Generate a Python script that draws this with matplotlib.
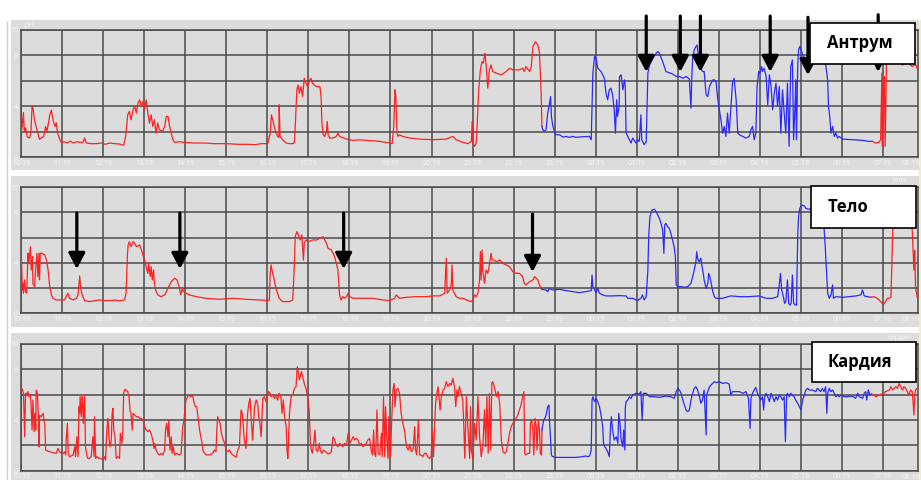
import matplotlib
matplotlib.use("Agg")
from matplotlib import pyplot as plt
from matplotlib.patches import Rectangle
from matplotlib.lines import Line2D

plt.rcParams['font.family'] = ['Open Sans', 'DejaVu Sans']

# time axis: hours after 10:19
hour_labels = ["10:19", "11:19", "12:19", "13:19", "14:19", "15:19", "16:19", "17:19",
               "18:19", "19:19", "20:19", "21:19", "22:19", "23:19", "00:19", "01:19",
               "02:19", "03:19", "04:19", "05:19", "06:19", "07:19", "08:19"]

# ---- Антрум: (hour, pH) ----
antrum_red1 = [
    (0.00, 1.9), (0.03, 2.4), (0.06, 3.5), (0.08, 2.0), (0.11, 2.3), (0.15, 1.6), (0.21, 1.5), (0.24, 1.9),
    (0.27, 4.0), (0.29, 3.9), (0.33, 2.9), (0.37, 2.4), (0.41, 1.9), (0.45, 1.4), (0.49, 1.5), (0.55, 1.6),
    (0.60, 2.4), (0.63, 2.0), (0.67, 2.7), (0.70, 3.3), (0.74, 3.7), (0.76, 3.3), (0.79, 2.8), (0.83, 2.4),
    (0.86, 2.7), (0.89, 1.9), (0.94, 1.4), (0.98, 1.15), (1.05, 1.2), (1.12, 1.1), (1.20, 1.25), (1.28, 1.1),
    (1.36, 1.2), (1.44, 1.15), (1.51, 1.15), (1.55, 1.5), (1.59, 1.1), (1.70, 1.05), (1.83, 1.05), (1.95, 1.1),
    (2.05, 1.0), (2.16, 1.1), (2.28, 1.05), (2.40, 1.02), (2.50, 0.92), (2.55, 1.62), (2.58, 2.67), (2.60, 3.32),
    (2.64, 3.59), (2.68, 2.93), (2.73, 3.72), (2.77, 3.98), (2.81, 3.46), (2.85, 4.24), (2.89, 4.50), (2.93, 3.98),
    (2.97, 4.37), (3.01, 3.72), (3.05, 4.5), (3.09, 3.46), (3.13, 2.67), (3.17, 3.32), (3.21, 2.41), (3.25, 2.93),
    (3.29, 1.88), (3.33, 2.67), (3.37, 2.15), (3.45, 2.02), (3.50, 2.41), (3.54, 3.19), (3.58, 3.19), (3.62, 2.41),
    (3.66, 1.88), (3.70, 1.36), (3.74, 1.15), (3.85, 1.2), (4.0, 1.15), (4.2, 1.1), (4.5, 1.1), (4.7, 1.05),
    (5.0, 1.05), (5.3, 1.0), (5.5, 1.0), (5.7, 0.97), (5.85, 1.05), (6.01, 1.05), (6.07, 1.88), (6.10, 3.32),
    (6.13, 2.93), (6.17, 2.41), (6.21, 1.88), (6.25, 1.62), (6.28, 1.54), (6.29, 4.11), (6.31, 1.62), (6.37, 1.36),
    (6.46, 1.10), (6.54, 1.05), (6.62, 1.05), (6.66, 1.15), (6.68, 2.41), (6.72, 5.29), (6.75, 5.68), (6.78, 5.03),
    (6.82, 5.55), (6.86, 4.76), (6.90, 6.20), (6.94, 5.81), (6.98, 5.55), (7.02, 5.94), (7.06, 6.2), (7.10, 5.81),
    (7.19, 5.55), (7.28, 5.55), (7.31, 4.76), (7.33, 2.67), (7.36, 1.75), (7.40, 1.62), (7.44, 2.02), (7.46, 2.8),
    (7.48, 1.75), (7.52, 1.49), (7.60, 1.49), (7.68, 1.62), (7.72, 1.88), (7.76, 1.62), (7.93, 1.41), (8.09, 1.31),
    (8.25, 1.35), (8.41, 1.31), (8.58, 1.28), (8.74, 1.23), (8.98, 1.10), (9.04, 1.05), (9.08, 2.41), (9.11, 5.29),
    (9.13, 4.76), (9.16, 1.88), (9.18, 1.62), (9.22, 1.75), (9.30, 1.62), (9.47, 1.49), (9.71, 1.41), (10.03, 1.36),
    (10.36, 1.41), (10.52, 1.62), (10.60, 1.36), (10.76, 1.15), (10.89, 1.05), (10.97, 1.23), (10.99, 2.8),
    (11.01, 1.10), (11.05, 0.84), (11.09, 1.10), (11.11, 2.41), (11.15, 5.29), (11.19, 6.86), (11.23, 7.51),
    (11.26, 7.38), (11.30, 8.17), (11.33, 7.25), (11.37, 5.42), (11.41, 6.86), (11.45, 7.25), (11.49, 6.73),
    (11.58, 6.6), (11.70, 6.47), (11.82, 6.73), (11.90, 6.99), (11.98, 6.86), (12.14, 6.86), (12.22, 6.99),
    (12.26, 6.73), (12.30, 7.12), (12.39, 6.73), (12.43, 7.12), (12.47, 8.69), (12.53, 9.08), (12.59, 8.82),
    (12.63, 8.17), (12.67, 5.03), (12.69, 2.41)]

antrum_blue = [
    (12.69, 2.41), (12.71, 2.15), (12.75, 2.02), (12.79, 2.15), (12.83, 3.46), (12.87, 4.11), (12.90, 4.76),
    (12.92, 3.19), (12.95, 2.54), (12.99, 2.02), (13.03, 1.75), (13.12, 1.75), (13.20, 1.57), (13.28, 1.62),
    (13.36, 1.55), (13.44, 1.62), (13.52, 1.55), (13.60, 1.57), (13.70, 1.60), (13.85, 1.62), (13.89, 1.36),
    (13.93, 6.60), (13.97, 7.91), (14.01, 7.77), (14.05, 6.99), (14.13, 6.73), (14.21, 6.20), (14.25, 5.03),
    (14.29, 4.50), (14.33, 5.29), (14.37, 5.42), (14.41, 4.90), (14.45, 3.72), (14.48, 1.88), (14.51, 4.50),
    (14.53, 3.19), (14.57, 3.98), (14.58, 6.34), (14.62, 6.47), (14.66, 5.29), (14.70, 6.07), (14.72, 5.5),
    (14.74, 1.88), (14.78, 1.62), (14.82, 1.36), (14.86, 1.1), (14.90, 1.49), (14.98, 1.1), (15.02, 1.36),
    (15.06, 1.23), (15.10, 3.32), (15.12, 1.36), (15.18, 0.97), (15.23, 1.23), (15.27, 6.6), (15.31, 7.25),
    (15.39, 7.77), (15.47, 8.17), (15.51, 8.3), (15.55, 8.17), (15.63, 7.51), (15.71, 6.73), (15.87, 6.54),
    (15.96, 6.34), (16.04, 6.34), (16.12, 6.2), (16.20, 6.34), (16.28, 6.13), (16.32, 3.85), (16.34, 6.34),
    (16.36, 7.77), (16.40, 8.43), (16.44, 8.69), (16.47, 8.82), (16.52, 7.25), (16.60, 6.73), (16.64, 6.73),
    (16.69, 4.9), (16.73, 4.76), (16.77, 5.55), (16.85, 6.07), (16.89, 6.07), (16.93, 5.94), (16.97, 4.63),
    (17.01, 3.72), (17.05, 2.93), (17.09, 1.88), (17.13, 2.41), (17.17, 1.62), (17.21, 3.46), (17.25, 1.88),
    (17.29, 3.72), (17.33, 5.81), (17.37, 6.2), (17.42, 4.5), (17.46, 1.88), (17.50, 1.75), (17.58, 1.62),
    (17.66, 1.49), (17.74, 1.62), (17.78, 2.15), (17.82, 2.41), (17.86, 1.36), (17.90, 1.88), (17.93, 5.55),
    (17.97, 6.73), (18.00, 6.6), (18.04, 7.12), (18.06, 6.73), (18.10, 6.99), (18.15, 6.34), (18.19, 4.11),
    (18.23, 6.47), (18.27, 5.55), (18.31, 3.72), (18.35, 5.03), (18.39, 5.81), (18.43, 3.98), (18.47, 5.55),
    (18.51, 1.88), (18.55, 5.29), (18.59, 3.46), (18.63, 1.88), (18.67, 5.81), (18.71, 0.84), (18.75, 7.12),
    (18.79, 7.64), (18.82, 1.36), (18.86, 4.5), (18.87, 6.07), (18.89, 1.36), (18.92, 7.12), (18.94, 8.43),
    (18.97, 8.69), (19.00, 8.43), (19.04, 8.04), (19.08, 7.77), (19.12, 7.51), (19.16, 7.25), (19.20, 7.51),
    (19.28, 7.25), (19.36, 7.6), (19.44, 7.4), (19.52, 7.5), (19.60, 7.3), (19.65, 6.07), (19.67, 3.98),
    (19.70, 3.19), (19.73, 1.88), (19.77, 2.41), (19.81, 1.62), (19.85, 1.88), (19.89, 1.49), (19.93, 1.62),
    (20.01, 1.41), (20.25, 1.36), (20.50, 1.31), (20.66, 1.23), (20.74, 1.23)]

antrum_red2 = [
    (20.74, 1.23), (20.82, 1.10), (20.90, 1.15), (20.94, 1.36), (20.97, 6.6), (20.98, 0.84), (21.01, 6.07),
    (21.03, 6.34), (21.05, 0.84), (21.08, 7.12), (21.11, 7.91), (21.15, 8.17), (21.30, 7.6), (21.47, 7.25),
    (21.60, 7.4), (21.71, 7.12), (21.79, 7.3), (21.84, 6.9)]

# ---- Тело ----
body_red1 = [
    (0.00, 5.29), (0.02, 3.44), (0.03, 1.85), (0.05, 2.38), (0.06, 1.59), (0.09, 2.65), (0.11, 1.7), (0.14, 1.6),
    (0.17, 4.76), (0.19, 3.97), (0.23, 5.29), (0.25, 3.44), (0.28, 4.50), (0.29, 2.38), (0.33, 2.12), (0.36, 3.70),
    (0.39, 4.76), (0.41, 2.91), (0.44, 4.76), (0.45, 2.65), (0.47, 4.76), (0.52, 4.76), (0.58, 4.63), (0.62, 4.23),
    (0.66, 3.44), (0.70, 2.12), (0.74, 1.46), (0.78, 1.19), (0.86, 1.06), (0.98, 1.06), (1.06, 1.06), (1.10, 1.32),
    (1.14, 1.59), (1.18, 1.19), (1.27, 1.06), (1.35, 1.19), (1.39, 1.46), (1.41, 2.25), (1.43, 2.96), (1.45, 2.12),
    (1.48, 1.59), (1.51, 1.32), (1.55, 1.01), (1.67, 0.93), (1.80, 1.0), (1.91, 1.06), (2.05, 1.0), (2.16, 1.01),
    (2.30, 1.05), (2.40, 0.98), (2.52, 1.06), (2.56, 1.59), (2.59, 4.50), (2.61, 5.42), (2.64, 5.69), (2.68, 5.29),
    (2.73, 5.69), (2.77, 5.56), (2.81, 5.29), (2.89, 5.42), (2.95, 4.89), (2.98, 4.50), (3.01, 4.23), (3.05, 3.70),
    (3.09, 3.17), (3.11, 3.97), (3.15, 2.91), (3.17, 3.70), (3.20, 2.65), (3.23, 3.44), (3.25, 2.38), (3.28, 1.85),
    (3.33, 1.46), (3.41, 1.32), (3.50, 1.46), (3.58, 1.98), (3.66, 2.51), (3.74, 2.78), (3.80, 2.65), (3.84, 2.25),
    (3.86, 1.98), (3.89, 1.46), (3.93, 1.98), (3.96, 1.72), (4.02, 1.59), (4.10, 1.46), (4.27, 1.32), (4.51, 1.19),
    (4.83, 1.11), (5.16, 1.19), (5.48, 1.11), (5.81, 1.06), (6.01, 1.01), (6.05, 1.06), (6.07, 3.17), (6.09, 3.84),
    (6.13, 3.17), (6.17, 2.65), (6.21, 1.98), (6.25, 1.59), (6.29, 1.19), (6.37, 0.93), (6.54, 0.93), (6.62, 1.06),
    (6.65, 3.17), (6.68, 6.08), (6.72, 6.48), (6.76, 6.22), (6.80, 5.82), (6.84, 6.22), (6.88, 4.23), (6.90, 5.56),
    (6.94, 5.82), (7.02, 5.69), (7.10, 5.82), (7.20, 5.82), (7.28, 5.95), (7.36, 6.08), (7.40, 5.82), (7.44, 5.56),
    (7.48, 5.16), (7.56, 5.03), (7.60, 4.76), (7.64, 4.50), (7.68, 3.97), (7.72, 3.44), (7.75, 1.98), (7.76, 1.46),
    (7.80, 1.06), (7.84, 1.32), (7.88, 1.19), (7.93, 1.32), (7.97, 1.59), (8.01, 1.32), (8.09, 1.19), (8.25, 1.19),
    (8.41, 1.19), (8.57, 1.19), (8.82, 1.06), (8.98, 1.01), (9.10, 1.19), (9.14, 1.46), (9.22, 1.19), (9.39, 1.27),
    (9.63, 1.32), (9.87, 1.32), (10.03, 1.38), (10.20, 1.38), (10.32, 1.59), (10.36, 4.37), (10.38, 1.59),
    (10.44, 1.85), (10.48, 2.25), (10.50, 3.84), (10.52, 1.85), (10.56, 1.59), (10.60, 1.32), (10.68, 1.19),
    (10.76, 1.19), (10.85, 1.06), (10.97, 0.93), (11.01, 1.06), (11.05, 1.46), (11.09, 1.32), (11.13, 1.59),
    (11.17, 2.65), (11.19, 4.89), (11.21, 2.65), (11.23, 5.03), (11.25, 3.44), (11.29, 2.38), (11.33, 3.44),
    (11.37, 3.17), (11.41, 3.84), (11.45, 4.76), (11.48, 4.23), (11.51, 4.23), (11.58, 4.10), (11.66, 4.23),
    (11.74, 3.97), (11.82, 3.84), (11.90, 3.70), (11.98, 3.31), (12.06, 3.17), (12.14, 3.17), (12.22, 2.91),
    (12.26, 2.38), (12.30, 2.25), (12.39, 2.51), (12.47, 2.65), (12.51, 2.91), (12.55, 2.78), (12.59, 2.65),
    (12.63, 2.25), (12.69, 1.90)]

body_blue = [
    (12.69, 1.90), (12.79, 1.85), (12.83, 1.72), (12.87, 1.98), (12.95, 1.85), (13.12, 1.90), (13.28, 1.80),
    (13.44, 1.72), (13.60, 1.64), (13.76, 1.72), (13.89, 1.80), (13.91, 3.04), (13.93, 2.12), (13.97, 1.85),
    (14.01, 1.64), (14.05, 1.98), (14.09, 1.59), (14.17, 1.46), (14.25, 1.38), (14.41, 1.38), (14.58, 1.40),
    (14.74, 1.38), (14.78, 1.19), (14.90, 1.19), (15.02, 1.01), (15.10, 1.19), (15.14, 1.46), (15.18, 1.06),
    (15.23, 1.32), (15.27, 3.44), (15.29, 6.08), (15.32, 7.67), (15.37, 8.20), (15.43, 8.25), (15.47, 8.07),
    (15.51, 7.80), (15.55, 7.54), (15.59, 7.14), (15.63, 6.61), (15.66, 4.76), (15.68, 7.01), (15.71, 7.14),
    (15.75, 6.88), (15.79, 6.75), (15.83, 6.35), (15.87, 5.82), (15.91, 5.29), (15.94, 4.50), (15.96, 2.25),
    (16.00, 2.12), (16.08, 2.12), (16.16, 2.06), (16.24, 2.12), (16.28, 2.25), (16.32, 2.38), (16.36, 2.91),
    (16.40, 3.44), (16.44, 4.10), (16.46, 4.89), (16.48, 4.37), (16.52, 4.10), (16.56, 4.37), (16.59, 3.70),
    (16.62, 3.17), (16.64, 2.65), (16.69, 1.98), (16.73, 2.38), (16.75, 3.17), (16.78, 2.91), (16.82, 2.25),
    (16.85, 1.72), (16.89, 1.32), (16.93, 1.19), (17.09, 1.19), (17.29, 1.38), (17.50, 1.32), (17.74, 1.32),
    (17.98, 1.38), (18.15, 1.19), (18.31, 1.19), (18.43, 1.32), (18.47, 2.25), (18.50, 3.17), (18.53, 1.85),
    (18.57, 1.32), (18.60, 0.79), (18.63, 0.93), (18.67, 2.65), (18.70, 0.79), (18.73, 0.66), (18.76, 0.79),
    (18.79, 3.04), (18.82, 0.79), (18.86, 0.66), (18.89, 0.66), (18.92, 6.08), (18.94, 7.67), (18.97, 8.33),
    (19.02, 8.60), (19.08, 8.52), (19.12, 8.33), (19.20, 8.25), (19.24, 8.33), (19.30, 8.3), (19.40, 8.1),
    (19.50, 7.5), (19.56, 6.88), (19.59, 5.29), (19.62, 3.44), (19.65, 1.59), (19.69, 1.19), (19.73, 1.46),
    (19.77, 2.25), (19.79, 1.19), (19.85, 1.32), (20.01, 1.27), (20.17, 1.32), (20.34, 1.38), (20.46, 1.46),
    (20.50, 1.85), (20.54, 1.38), (20.62, 1.32), (20.70, 1.27)]

body_red2 = [
    (20.70, 1.27), (20.78, 1.32), (20.86, 1.19), (20.94, 0.93), (20.98, 0.79), (21.02, 0.74), (21.06, 0.93),
    (21.10, 1.19), (21.15, 1.19), (21.19, 1.27), (21.21, 3.44), (21.23, 6.08), (21.24, 6.75), (21.30, 8.5),
    (21.45, 9.0), (21.60, 8.8), (21.68, 7.5), (21.71, 6.6), (21.75, 3.44), (21.77, 5.0), (21.79, 2.0),
    (21.83, 1.32), (21.85, 1.0)]

# ---- Кардия ----
cardia_red1 = [
    (0.00, 6.37), (0.03, 6.45), (0.06, 6.11), (0.09, 2.68), (0.11, 6.11), (0.13, 5.97), (0.17, 6.24), (0.19, 5.84),
    (0.23, 5.97), (0.25, 4.79), (0.27, 3.21), (0.29, 5.58), (0.32, 3.08), (0.34, 4.53), (0.36, 3.21), (0.37, 6.37),
    (0.40, 6.11), (0.42, 4.53), (0.44, 1.89), (0.45, 4.39), (0.49, 4.26), (0.54, 4.53), (0.56, 4.00), (0.58, 3.61),
    (0.60, 1.63), (0.63, 1.58), (0.70, 1.50), (0.78, 1.42), (0.86, 1.37), (0.90, 1.76), (0.94, 1.50), (0.98, 1.37),
    (1.02, 1.32), (1.06, 1.50), (1.09, 1.24), (1.10, 2.42), (1.13, 3.74), (1.15, 1.37), (1.18, 1.11), (1.22, 1.16),
    (1.27, 1.24), (1.31, 1.89), (1.33, 1.11), (1.36, 2.68), (1.39, 1.11), (1.41, 5.05), (1.43, 4.53), (1.44, 5.84),
    (1.47, 4.26), (1.49, 5.84), (1.51, 5.05), (1.52, 3.74), (1.55, 5.97), (1.57, 1.89), (1.61, 1.11), (1.63, 0.97),
    (1.67, 0.97), (1.71, 1.11), (1.75, 2.68), (1.78, 1.11), (1.79, 4.26), (1.82, 0.97), (1.85, 1.11), (1.90, 0.97),
    (1.95, 0.97), (2.00, 0.84), (2.04, 1.11), (2.06, 0.84), (2.09, 3.21), (2.12, 4.13), (2.14, 2.68), (2.17, 1.89),
    (2.20, 2.42), (2.22, 4.53), (2.24, 4.92), (2.26, 3.21), (2.29, 2.68), (2.32, 0.97), (2.36, 1.11), (2.40, 0.97),
    (2.42, 2.95), (2.46, 2.16), (2.48, 3.21), (2.50, 6.11), (2.53, 6.42), (2.56, 6.37), (2.60, 6.24), (2.63, 5.84),
    (2.66, 4.66), (2.68, 4.53), (2.71, 3.21), (2.73, 4.53), (2.77, 4.39), (2.81, 4.26), (2.85, 4.26), (2.89, 4.13),
    (2.93, 4.13), (2.97, 4.00), (3.01, 3.47), (3.05, 3.21), (3.09, 3.08), (3.13, 3.21), (3.17, 2.95), (3.21, 2.42),
    (3.24, 1.76), (3.26, 2.16), (3.29, 1.63), (3.33, 1.37), (3.37, 1.24), (3.41, 1.37), (3.45, 1.24), (3.50, 1.63),
    (3.52, 3.21), (3.55, 3.74), (3.58, 2.68), (3.60, 4.00), (3.63, 1.63), (3.66, 2.68), (3.68, 1.37), (3.71, 1.89),
    (3.74, 1.24), (3.78, 1.37), (3.86, 1.24), (3.90, 1.37), (3.94, 3.47), (3.97, 4.00), (3.99, 4.79), (4.02, 5.58),
    (4.06, 5.84), (4.10, 5.97), (4.14, 5.84), (4.18, 5.97), (4.21, 5.45), (4.25, 5.05), (4.28, 5.05), (4.31, 4.26),
    (4.35, 3.21), (4.38, 2.68), (4.41, 2.16), (4.44, 1.50), (4.48, 1.37), (4.51, 1.24), (4.55, 1.24), (4.59, 1.24),
    (4.67, 1.37), (4.71, 1.63), (4.75, 1.50), (4.77, 3.21), (4.79, 4.26), (4.82, 4.00), (4.85, 3.74), (4.87, 3.21),
    (4.90, 2.68), (4.93, 2.42), (4.96, 2.16), (5.00, 1.63), (5.04, 1.50), (5.08, 1.63), (5.12, 1.37), (5.16, 1.24),
    (5.20, 1.16), (5.24, 1.05), (5.28, 1.63), (5.32, 1.89), (5.36, 4.79), (5.39, 4.53), (5.42, 3.21), (5.44, 2.42),
    (5.48, 1.76), (5.52, 4.53), (5.55, 5.32), (5.58, 5.71), (5.60, 4.53), (5.64, 2.42), (5.69, 5.05), (5.73, 5.58),
    (5.77, 5.18), (5.79, 4.26), (5.82, 3.74), (5.85, 2.68), (5.89, 5.71), (5.93, 5.84), (5.97, 5.45), (6.01, 5.97),
    (6.03, 6.24), (6.07, 6.11), (6.09, 5.84), (6.13, 5.97), (6.17, 5.71), (6.21, 5.97), (6.25, 5.58), (6.29, 6.11),
    (6.33, 5.84), (6.36, 4.53), (6.39, 5.58), (6.42, 4.26), (6.46, 3.47), (6.48, 1.63), (6.50, 0.97), (6.54, 4.53),
    (6.58, 5.84), (6.62, 5.97), (6.66, 6.50), (6.70, 6.63), (6.73, 8.21), (6.76, 7.68), (6.78, 7.16), (6.80, 7.42),
    (6.83, 7.82), (6.86, 7.42), (6.90, 6.89), (6.94, 6.50), (6.98, 5.84), (7.02, 4.79), (7.05, 2.16), (7.07, 1.63),
    (7.10, 1.37), (7.14, 2.42), (7.16, 3.21), (7.19, 1.63), (7.23, 1.50), (7.27, 2.16), (7.29, 1.63), (7.33, 1.37),
    (7.37, 1.63), (7.42, 1.50), (7.48, 1.32), (7.52, 1.37), (7.56, 1.50), (7.60, 2.68), (7.64, 2.42), (7.68, 2.03),
    (7.72, 1.89), (7.76, 2.16), (7.80, 2.03), (7.84, 1.89), (7.88, 2.16), (7.93, 2.03), (7.97, 2.95), (8.01, 2.16),
    (8.05, 2.42), (8.09, 2.68), (8.13, 2.42), (8.17, 2.55), (8.21, 2.42), (8.25, 2.03), (8.29, 2.16), (8.33, 1.89),
    (8.41, 2.16), (8.45, 2.42), (8.49, 2.55), (8.53, 1.63), (8.56, 1.24), (8.59, 3.21), (8.61, 1.37), (8.64, 1.11),
    (8.67, 4.79), (8.70, 1.37), (8.74, 1.24), (8.78, 2.95), (8.80, 1.11), (8.83, 5.84), (8.86, 1.11), (8.88, 5.05),
    (8.91, 2.68), (8.94, 0.97), (8.96, 4.26), (9.00, 1.11), (9.03, 4.00), (9.06, 6.37), (9.09, 6.89), (9.11, 5.05),
    (9.14, 6.37), (9.18, 6.50), (9.22, 6.11), (9.26, 4.53), (9.30, 3.74), (9.34, 3.21), (9.39, 1.89), (9.43, 1.63),
    (9.47, 2.03), (9.51, 1.50), (9.55, 1.63), (9.59, 3.47), (9.61, 1.63), (9.64, 1.24), (9.68, 4.00), (9.71, 1.24),
    (9.75, 1.24), (9.79, 1.11), (9.83, 1.37), (9.87, 1.37), (9.91, 1.11), (9.95, 0.97), (9.99, 1.11), (10.02, 3.21),
    (10.05, 1.11), (10.07, 3.21), (10.10, 5.32), (10.13, 6.11), (10.16, 6.63), (10.18, 5.84), (10.21, 4.79),
    (10.24, 5.84), (10.28, 6.37), (10.32, 6.50), (10.36, 7.03), (10.40, 6.63), (10.44, 6.89), (10.48, 6.76),
    (10.52, 7.29), (10.56, 6.63), (10.59, 5.05), (10.62, 6.37), (10.64, 5.84), (10.68, 6.63), (10.72, 6.11),
    (10.76, 5.58), (10.79, 3.21), (10.81, 0.97), (10.85, 5.84), (10.89, 3.21), (10.93, 0.97), (10.95, 5.05),
    (10.97, 1.63), (11.01, 0.97), (11.05, 3.74), (11.09, 2.42), (11.13, 5.84), (11.17, 2.68), (11.21, 1.11),
    (11.25, 1.89), (11.29, 4.79), (11.32, 1.89), (11.35, 5.84), (11.38, 1.37), (11.41, 6.11), (11.44, 1.63),
    (11.47, 6.89), (11.49, 7.03), (11.53, 6.63), (11.58, 5.84), (11.62, 6.24), (11.66, 5.32), (11.70, 2.42),
    (11.74, 1.50), (11.78, 1.37), (11.82, 1.50), (11.86, 2.16), (11.90, 2.95), (11.94, 3.47), (11.98, 3.74),
    (12.02, 3.87), (12.06, 4.13), (12.10, 4.39), (12.14, 4.79), (12.18, 5.18), (12.22, 5.84), (12.25, 6.24),
    (12.27, 1.37), (12.30, 1.24), (12.35, 1.37), (12.39, 1.37), (12.41, 3.74), (12.44, 4.00), (12.47, 3.21),
    (12.49, 1.24), (12.52, 4.13), (12.55, 3.47), (12.57, 1.63), (12.60, 4.00), (12.63, 3.21), (12.65, 1.37),
    (12.68, 1.24), (12.69, 3.21)]

cardia_blue = [
    (12.69, 3.21), (12.73, 4.00), (12.76, 4.13), (12.79, 4.39), (12.83, 5.05), (12.86, 5.18), (12.87, 4.26),
    (12.90, 2.42), (12.92, 1.24), (12.95, 1.11), (13.03, 1.05), (13.28, 1.05), (13.52, 1.05), (13.68, 1.11),
    (13.76, 1.16), (13.81, 1.11), (13.85, 1.16), (13.89, 1.63), (13.91, 5.58), (13.93, 5.84), (13.97, 5.45),
    (14.01, 5.71), (14.05, 5.45), (14.09, 5.05), (14.13, 4.39), (14.17, 3.47), (14.19, 2.16), (14.22, 1.89),
    (14.25, 1.76), (14.29, 1.50), (14.33, 1.11), (14.36, 3.47), (14.38, 4.26), (14.41, 3.21), (14.45, 2.42),
    (14.50, 2.68), (14.54, 2.16), (14.56, 4.53), (14.59, 3.74), (14.62, 2.42), (14.66, 1.89), (14.68, 3.21),
    (14.71, 1.63), (14.72, 4.92), (14.74, 5.45), (14.78, 5.58), (14.82, 5.84), (14.86, 5.71), (14.90, 5.97),
    (14.98, 6.11), (15.06, 6.05), (15.10, 6.24), (15.13, 4.00), (15.16, 6.11), (15.23, 6.11), (15.31, 5.84),
    (15.43, 5.84), (15.55, 5.79), (15.71, 5.89), (15.83, 5.84), (15.91, 5.71), (15.96, 6.24), (16.00, 6.50),
    (16.04, 6.37), (16.08, 6.11), (16.12, 5.58), (16.16, 5.18), (16.20, 4.79), (16.24, 4.66), (16.28, 4.79),
    (16.32, 5.58), (16.36, 6.11), (16.40, 6.50), (16.44, 6.63), (16.48, 6.37), (16.52, 5.97), (16.56, 5.32),
    (16.60, 5.58), (16.64, 6.37), (16.69, 2.82), (16.70, 5.97), (16.73, 6.24), (16.77, 6.63), (16.85, 6.89),
    (16.89, 7.03), (16.93, 6.95), (17.01, 7.03), (17.09, 6.89), (17.17, 6.95), (17.25, 6.84), (17.29, 5.97),
    (17.33, 6.24), (17.42, 6.24), (17.50, 6.24), (17.58, 6.11), (17.66, 6.24), (17.72, 5.71), (17.76, 3.34),
    (17.78, 5.71), (17.82, 6.11), (17.86, 6.37), (17.90, 6.58), (17.94, 6.11), (17.98, 5.84), (18.02, 5.58),
    (18.06, 5.84), (18.09, 4.79), (18.11, 5.71), (18.15, 6.11), (18.19, 5.84), (18.23, 5.45), (18.27, 6.11),
    (18.31, 5.84), (18.35, 5.45), (18.39, 5.84), (18.43, 5.58), (18.47, 5.97), (18.51, 5.84), (18.55, 5.58),
    (18.59, 5.84), (18.62, 2.29), (18.65, 5.97), (18.67, 6.11), (18.71, 5.84), (18.75, 6.11), (18.79, 5.97),
    (18.83, 5.84), (18.87, 5.58), (18.92, 5.32), (18.96, 5.05), (19.00, 4.79), (19.04, 5.58), (19.08, 5.97),
    (19.12, 6.37), (19.16, 6.50), (19.20, 6.37), (19.28, 6.37), (19.36, 6.24), (19.40, 6.50), (19.44, 6.37),
    (19.48, 6.24), (19.52, 6.50), (19.56, 6.24), (19.60, 6.63), (19.63, 4.53), (19.65, 6.11), (19.69, 6.50),
    (19.73, 6.24), (19.77, 6.37), (19.81, 6.11), (19.85, 5.84), (19.89, 5.97), (19.93, 5.84), (19.97, 5.97),
    (20.05, 5.84), (20.13, 5.84), (20.25, 5.89), (20.33, 5.71), (20.38, 6.11), (20.42, 5.84), (20.50, 5.71),
    (20.54, 6.11), (20.58, 6.24), (20.60, 5.58), (20.64, 6.37), (20.68, 5.97), (20.72, 6.05)]

cardia_red2 = [
    (20.72, 6.05), (20.78, 5.97), (20.82, 5.84), (20.90, 5.97), (20.98, 6.05), (21.06, 6.24), (21.15, 6.37),
    (21.19, 6.63), (21.23, 6.37), (21.27, 6.50), (21.31, 6.63), (21.35, 6.50), (21.39, 6.89), (21.43, 6.63),
    (21.47, 6.37), (21.51, 6.63), (21.55, 6.50), (21.59, 6.24), (21.63, 5.97), (21.67, 6.37), (21.71, 6.24),
    (21.73, 5.45), (21.75, 4.39), (21.77, 5.84), (21.79, 6.37), (21.83, 6.50), (21.88, 6.63)]

# arrows: (hour, pH of tip, pH of tail)
antrum_arrows = [(15.23, 6.7, 11.1), (16.06, 6.7, 11.1), (16.55, 6.7, 11.1),
                 (18.25, 6.7, 11.1), (19.17, 6.45, 11.0), (20.88, 6.7, 11.2)]
body_arrows = [(1.36, 3.52, 7.96), (3.87, 3.52, 7.96), (7.86, 3.52, 7.96), (12.46, 3.28, 7.88)]

RED = '#ff2020'
BLUE = '#2a2aff'
GRID = '#4a4a4a'
W, H = 921, 480

fig = plt.figure(figsize=(W / 100, H / 100), dpi=100)

# gray panels
for y0, y1 in [(20, 170), (176, 327), (333, 480)]:
    fig.add_artist(Rectangle((11 / W, 1 - y1 / H), (919 - 11) / W, (y1 - y0) / H,
                             transform=fig.transFigure, facecolor='#dcdcdc', edgecolor='none', zorder=0))
fig.add_artist(Line2D([6.5 / W, 6.5 / W], [1 - 22 / H, 0], transform=fig.transFigure, color='#cfcfcf', lw=1))
fig.add_artist(Rectangle((919 / W, 0), 2 / W, 1 - 20 / H, transform=fig.transFigure,
                         facecolor='#eeeec8', edgecolor='none'))

panels = [
    dict(top=30, bottom=157, red1=antrum_red1, blue=antrum_blue, red2=antrum_red2, name='Антрум',
         box=(19.22, 7.32, 21.78, 10.55), text_y=8.94, arrows=antrum_arrows, corner=None),
    dict(top=187.3, bottom=313.3, red1=body_red1, blue=body_blue, red2=body_red2, name='Тело',
         box=(19.25, 6.77, 21.80, 10.10), text_y=8.44, arrows=body_arrows, corner='тело'),
    dict(top=344, bottom=470.7, red1=cardia_red1, blue=cardia_blue, red2=cardia_red2, name='Кардия',
         box=(19.27, 7.0, 21.80, 10.16), text_y=8.58, arrows=[], corner='кардия'),
]

for p in panels:
    ax = fig.add_axes([21 / W, 1 - p['bottom'] / H, (918 - 21) / W, (p['bottom'] - p['top']) / H])
    ax.set_facecolor('#dcdcdc')
    ax.set_xlim(0, 21.85)
    ax.set_ylim(0, 10)
    ax.set_xticks(range(22))
    ax.set_xticklabels(hour_labels[:22])
    ax.set_yticks([0, 2, 4, 6, 8, 10])
    ax.set_yticklabels(['0', '', '4', '', '8', '10'])
    ax.tick_params(length=0, labelsize=5, labelcolor='#f6f6f6', pad=2)
    ax.grid(True, color=GRID, lw=1.1)
    ax.set_axisbelow(True)
    for s in ax.spines.values():
        s.set_color(GRID)
        s.set_linewidth(1.1)
    # last hour label sits at the cropped right edge
    ax.text(920 / W, 1 - (p['bottom'] + 3) / H, hour_labels[22], transform=fig.transFigure,
            fontsize=5, color='#f6f6f6', ha='right', va='top')

    for seg, col in [(p['red1'], RED), (p['blue'], BLUE), (p['red2'], RED)]:
        t, ph = zip(*seg)
        ax.plot(t, ph, color=col, lw=0.9, zorder=3)

    for x, tip, tail in p['arrows']:
        ax.annotate('', xy=(x, tip), xytext=(x, tail), annotation_clip=False, zorder=6,
                    arrowprops=dict(arrowstyle='-|>,head_length=0.95,head_width=0.5', color='black',
                                    lw=2.3, mutation_scale=10, shrinkA=0, shrinkB=0))

    x0, y0, x1, y1 = p['box']
    ax.add_patch(Rectangle((x0, y0), x1 - x0, y1 - y0, facecolor='white', edgecolor='black',
                           lw=1.2, clip_on=False, zorder=8))
    ax.text(19.64, p['text_y'], p['name'], fontsize=12, fontweight='bold', color='black',
            ha='left', va='center', zorder=9, clip_on=False)
    if p['corner']:
        ax.text(21.4, 10.25, p['corner'], fontsize=5, color='#f6f6f6', ha='center', va='bottom',
                clip_on=False, zorder=2)

fig.text(23 / W, 1 - 29 / H, 'pH', fontsize=6, color='#f6f6f6', ha='left', va='bottom')

fig.savefig('out.png', dpi=100)
